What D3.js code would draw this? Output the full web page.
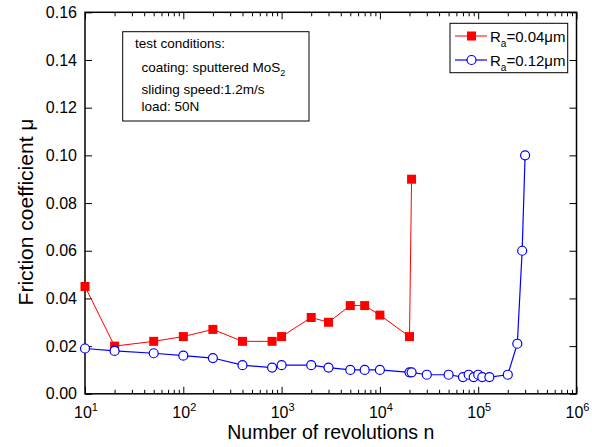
<!DOCTYPE html>
<html>
<head>
<meta charset="utf-8">
<script src="https://cdnjs.cloudflare.com/ajax/libs/d3/7.8.5/d3.min.js"></script>
<style>
  body { margin: 0; background: #fff; }
  svg { display: block; font-family: "Liberation Sans", Arial, sans-serif; }
</style>
</head>
<body>
<svg></svg>
<script>
// Friction coefficient vs number of revolutions (two roughness values)

// Data
var revRed = [10, 20, 50, 100, 200, 400, 800, 1000, 2000, 3000, 5000, 7000, 10000, 20000, 21000]
var muRed = [0.045, 0.020, 0.022, 0.024, 0.027, 0.022, 0.022, 0.024, 0.032, 0.030, 0.037, 0.037, 0.033, 0.024, 0.090]

var revBlue = [10, 20, 50, 100, 200, 400, 800, 1000, 2000, 3000, 5000, 7000, 10000, 20000, 21000,
               30000, 50000, 70000, 80000, 90000, 100000, 110000, 130000, 200000, 250000, 280000, 300000]
var muBlue = [0.019, 0.018, 0.017, 0.016, 0.015, 0.012, 0.011, 0.012, 0.012, 0.011, 0.010, 0.010, 0.010, 0.009, 0.009,
              0.008, 0.008, 0.007, 0.008, 0.007, 0.008, 0.007, 0.007, 0.008, 0.021, 0.060, 0.100]

var yTicks = [0, 0.02, 0.04, 0.06, 0.08, 0.10, 0.12, 0.14, 0.16]
var xDecades = [1, 2, 3, 4, 5, 6]
var legendLabels = ["0.04\u03bcm", "0.12\u03bcm"]
var noteLines = ["test conditions:", "coating: sputtered MoS", "sliding speed:1.2m/s", "load: 50N"]

// Size of the SVG and the plot frame
var width = 592,
    height = 447
var pLeft = 85, pRight = 576.5, pTop = 12.3, pBottom = 393.8

var svg = d3.select("svg")
    .attr("width", width)
    .attr("height", height)

var x = d3.scaleLog()
    .domain([10, 1e6])
    .range([pLeft, pRight])

var y = d3.scaleLinear()
    .domain([0, 0.16])
    .range([pBottom, pTop])

// minor ticks 2..9 inside each decade
var minors = []
for (var d = 1; d < 6; d++) {
    for (var k = 2; k <= 9; k++) minors.push(k * Math.pow(10, d))
}
var majors = xDecades.map(function(e) { return Math.pow(10, e) })

// Bottom and top axes, ticks pointing inward
function xAxis(g, axisFn, values, size) {
    g.call(axisFn(x).tickValues(values).tickSize(-size).tickFormat(""))
    g.select(".domain").remove()
    g.selectAll("line").attr("stroke", "#000").attr("stroke-width", 1)
}

svg.append("g").attr("transform", "translate(0," + pBottom + ")")
    .call(xAxis, d3.axisBottom, majors, 7)
svg.append("g").attr("transform", "translate(0," + pBottom + ")")
    .call(xAxis, d3.axisBottom, minors, 4)
svg.append("g").attr("transform", "translate(0," + pTop + ")")
    .call(xAxis, d3.axisTop, majors, 7)
svg.append("g").attr("transform", "translate(0," + pTop + ")")
    .call(xAxis, d3.axisTop, minors, 4)

// x tick labels with superscript exponent
var xLab = svg.append("g").selectAll("text")
    .data(xDecades)
    .enter().append("text")
    .attr("x", function(e) { return x(Math.pow(10, e)) + 1 })
    .attr("y", pBottom + 24.5)
    .attr("text-anchor", "middle")
    .style("font-size", "16px")
    .style("fill", "#000")
xLab.append("tspan").text("10")
xLab.append("tspan")
    .attr("dy", -7)
    .style("font-size", "11px")
    .text(function(e) { return e })

// Left axis with labels, right axis mirrored
var yLeft = svg.append("g").attr("transform", "translate(" + pLeft + ",0)")
    .call(d3.axisLeft(y).tickValues(yTicks).tickSize(-7).tickPadding(8).tickFormat(d3.format(".2f")))
yLeft.select(".domain").remove()
yLeft.selectAll("line").attr("stroke", "#000")
yLeft.selectAll("text").style("font-size", "16px").style("fill", "#000")
    .style("font-family", "\"Liberation Sans\", Arial, sans-serif")

var yRight = svg.append("g").attr("transform", "translate(" + pRight + ",0)")
    .call(d3.axisRight(y).tickValues(yTicks).tickSize(-7).tickFormat(""))
yRight.select(".domain").remove()
yRight.selectAll("line").attr("stroke", "#000")

// Frame
svg.append("rect")
    .attr("x", pLeft)
    .attr("y", pTop)
    .attr("width", pRight - pLeft)
    .attr("height", pBottom - pTop)
    .style("fill", "none")
    .style("stroke", "#000")
    .style("stroke-width", 1.5)

// Series
var line = d3.line()
    .x(function(d) { return x(d[0]) })
    .y(function(d) { return y(d[1]) })

var redPts = d3.zip(revRed, muRed)
var bluePts = d3.zip(revBlue, muBlue)

svg.append("path")
    .datum(redPts)
    .attr("d", line)
    .style("fill", "none")
    .style("stroke", "#ff0000")
    .style("stroke-width", 1)

svg.selectAll("rect.red")
    .data(redPts)
    .enter().append("rect")
    .attr("class", "red")
    .attr("x", function(d) { return x(d[0]) - 4.5 })
    .attr("y", function(d) { return y(d[1]) - 4.5 })
    .attr("width", 9)
    .attr("height", 9)
    .style("fill", "#ff0000")

svg.append("path")
    .datum(bluePts)
    .attr("d", line)
    .style("fill", "none")
    .style("stroke", "#0000ff")
    .style("stroke-width", 1.2)

svg.selectAll("circle.blue")
    .data(bluePts)
    .enter().append("circle")
    .attr("class", "blue")
    .attr("cx", function(d) { return x(d[0]) })
    .attr("cy", function(d) { return y(d[1]) })
    .attr("r", 4.5)
    .style("fill", "#fff")
    .style("stroke", "#0000ff")
    .style("stroke-width", 1.2)

// Legend
var legend = svg.append("g")
legend.append("rect")
    .attr("x", 450).attr("y", 23.3)
    .attr("width", 117.7).attr("height", 49.4)
    .style("fill", "#fff").style("stroke", "#000").style("stroke-width", 1)

var rows = legend.selectAll("g")
    .data(legendLabels)
    .enter().append("g")
    .attr("transform", function(d, i) { return "translate(0," + (i ? 60 : 36) + ")" })

rows.append("line")
    .attr("x1", 455).attr("x2", 487)
    .style("stroke", function(d, i) { return i ? "#0000ff" : "#ff0000" })
    .style("stroke-width", function(d, i) { return i ? 1.2 : 1 })

rows.filter(function(d, i) { return i == 0 }).append("rect")
    .attr("x", 467).attr("y", -4.5).attr("width", 9).attr("height", 9)
    .style("fill", "#ff0000")
rows.filter(function(d, i) { return i == 1 }).append("circle")
    .attr("cx", 471.5).attr("r", 4.5)
    .style("fill", "#fff").style("stroke", "#0000ff").style("stroke-width", 1.2)

var lt = rows.append("text")
    .attr("x", 490).attr("y", 6)
    .style("font-size", "15px")
lt.append("tspan").text("R")
lt.append("tspan").attr("dy", 5).style("font-size", "10px").text("a")
lt.append("tspan").attr("dy", -5).text(function(d) { return "=" + d })

// Test conditions box
svg.append("rect")
    .attr("x", 122.7).attr("y", 31.7)
    .attr("width", 186.3).attr("height", 89.3)
    .style("fill", "#fff").style("stroke", "#000").style("stroke-width", 1)

var noteY = [48.3, 72, 94, 110.7]
var note = svg.append("g").selectAll("text")
    .data(noteLines)
    .enter().append("text")
    .attr("x", function(d, i) { return i ? 141.5 : 135 })
    .attr("y", function(d, i) { return noteY[i] })
    .style("font-size", "13.5px")
    .text(function(d) { return d })
note.filter(function(d, i) { return i == 1 }).append("tspan")
    .attr("dy", 4).style("font-size", "9px").text("2")

// Axis titles
svg.append("text")
    .attr("x", (pLeft + pRight) / 2)
    .attr("y", 438.5)
    .attr("text-anchor", "middle")
    .style("font-size", "19.5px")
    .text("Number of revolutions n")

svg.append("text")
    .attr("transform", "translate(33,212) rotate(-90)")
    .attr("text-anchor", "middle")
    .style("font-size", "21px")
    .text("Friction coefficient \u03bc")
</script>
</body>
</html>
